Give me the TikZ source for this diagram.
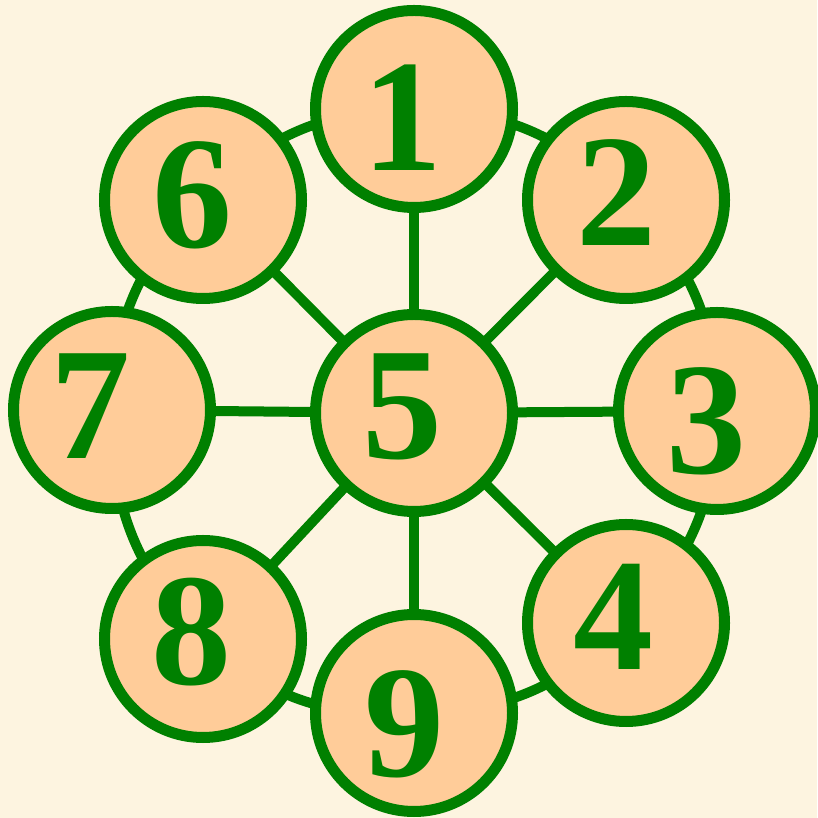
\documentclass[tikz,border=0pt]{standalone}
\usepackage{fontspec}
\setmainfont{Liberation Serif}
\definecolor{bgcream}{HTML}{FDF4E0}
\definecolor{peach}{HTML}{FFCC99}
\definecolor{dgreen}{HTML}{008000}
\pgfdeclarelayer{bglayer}
\pgfdeclarelayer{edgelayer}
\pgfsetlayers{bglayer,edgelayer,main}
\begin{document}
\begin{tikzpicture}[x=1pt,y=1pt,
  disc/.style={circle,draw=dgreen,fill=peach,line width=11pt,minimum size=197pt,inner sep=0pt},
  num/.style={text=dgreen,font=\fontsize{160}{160}\selectfont\bfseries,inner sep=0pt},
  edge/.style={draw=dgreen,line width=10pt}]
\begin{pgfonlayer}{bglayer}
\fill[bgcream] (0,0) rectangle (817,818);
\end{pgfonlayer}
\useasboundingbox (0,0) rectangle (817,818);
\node[disc] (c1) at (414,709) {};
\node[disc] (c2) at (626,618) {};
\node[disc] (c3) at (717,407) {};
\node[disc] (c4) at (626,195) {};
\node[disc] (c5) at (414,405) {};
\node[disc] (c6) at (203,618) {};
\node[disc] (c7) at (112,408) {};
\node[disc] (c8) at (203,179) {};
\node[disc] (c9) at (414,105) {};
\begin{pgfonlayer}{edgelayer}
\foreach \a/\b in {1/2,2/3,3/4,4/9,9/8,8/7,7/6,6/1}
  \draw[edge] (c\a.center) to[bend left=22.5] (c\b.center);
\foreach \b in {1,2,3,4,6,7,8,9}
  \draw[edge] (c5.center) -- (c\b.center);
\end{pgfonlayer}
\node[num] (t1) at (402,700) {1};
\node[num] (t2) at (616,625) {2};
\node[num] (t3) at (706,397) {3};
\node[num] (t4) at (613,201) {4};
\node[num] (t5) at (402,411) {5};
\node[num] (t6) at (192,623) {6};
\node[num] (t7) at (90,412) {7};
\node[num] (t8) at (191,186) {8};
\node[num] (t9) at (404,94) {9};
\end{tikzpicture}
\end{document}
